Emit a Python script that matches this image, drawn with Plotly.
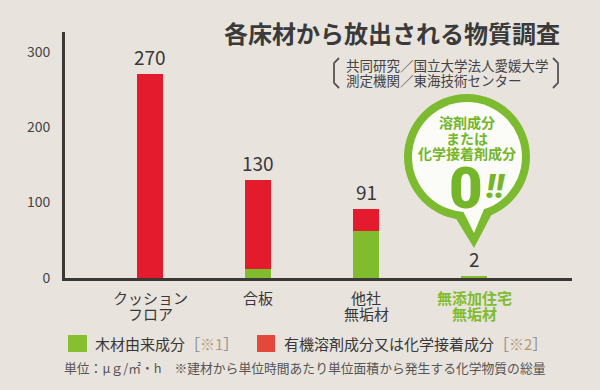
import plotly.graph_objects as go

# ---------------- data ----------------
categories = ["クッション\nフロア", "合板", "他社\n無垢材", "無添加住宅\n無垢材"]
wood_values = [0, 12, 62, 2]          # 木材由来成分
chem_values = [270, 118, 29, 0]       # 有機溶剤成分又は化学接着成分
totals = [270, 130, 91, 2]
y_ticks = [0, 100, 200, 300]
series_names = ["木材由来成分", "有機溶剤成分又は化学接着成分"]
series_notes = ["※1", "※2"]

# ---------------- style ----------------
BG = "#e9e3dd"
GREEN = "#80bd2e"
RED = "#e41b2d"
LEG_GREEN = "#86bf2f"
LEG_RED = "#e6473b"
TXT = "#383838"
FONT = "Noto Sans CJK JP"

L, R, T, B = 65, 572, 32, 278
W, H = 600, 390


def px(x):
    return (x - L) / (R - L)


def py(y):
    return (B - y) / (B - T)


xs = list(range(len(categories)))

fig = go.Figure()
fig.add_trace(go.Bar(x=xs, y=wood_values, width=0.24, marker=dict(color=GREEN, line_width=0),
                     name=series_names[0], showlegend=False))
fig.add_trace(go.Bar(x=xs, y=chem_values, width=0.24, marker=dict(color=RED, line_width=0),
                     name=series_names[1], showlegend=False))

annotations = []
# value labels
for i, v in enumerate(totals):
    annotations.append(dict(x=i, y=v, xref="x", yref="y", text=str(v), showarrow=False,
                            yanchor="bottom", yshift=2,
                            font=dict(family=FONT, size=19, color=TXT)))
# category labels
for i, c in enumerate(categories):
    last = i == len(categories) - 1
    for j, line in enumerate(c.split("\n")):
        annotations.append(dict(x=i, y=py(297 + j * 16), xref="x", yref="paper", text=line,
                                showarrow=False, xanchor="center", yanchor="middle",
                                font=dict(family=FONT, size=15,
                                          color=GREEN if last else TXT,
                                          weight="bold" if last else "normal")))

# title & credits
annotations.append(dict(x=px(392), y=py(32), xref="paper", yref="paper",
                        text="各床材から放出される物質調査", showarrow=False,
                        xanchor="center", yanchor="middle",
                        font=dict(family=FONT, size=24, color="#3a3a3a", weight="bold")))
for j, line in enumerate(["共同研究／国立大学法人愛媛大学", "測定機関／東海技術センター"]):
    annotations.append(dict(x=px(344), y=py(65 + j * 15), xref="paper", yref="paper",
                            text=line, showarrow=False, xanchor="left", yanchor="middle",
                            font=dict(family=FONT, size=13.5, color="#444")))

# bubble texts
for j, line in enumerate(["溶剤成分", "または", "化学接着剤成分"]):
    annotations.append(dict(x=px(467), y=py(122 + j * 15.5), xref="paper", yref="paper",
                            text=line, showarrow=False, xanchor="center", yanchor="middle",
                            font=dict(family=FONT, size=14, color="#74b52a", weight="bold")))
annotations.append(dict(x=px(466), y=py(188), xref="paper", yref="paper", text="0",
                        showarrow=False, xanchor="center", yanchor="middle",
                        font=dict(family="Roboto", size=58, color="#74b52a", weight=900)))
annotations.append(dict(x=px(496), y=py(186), xref="paper", yref="paper", text="<i>!!</i>",
                        showarrow=False, xanchor="center", yanchor="middle",
                        font=dict(family="Roboto", size=34, color="#74b52a", weight=900)))

# legend texts
leg_x = [93, 282]
for k, (name, note) in enumerate(zip(series_names, series_notes)):
    annotations.append(dict(x=px(leg_x[k]), y=py(343), xref="paper", yref="paper",
                            text=f"{name}<span style='color:#8a8a8a'>［</span>"
                                 f"<span style='color:#b39b78'>{note}</span>"
                                 f"<span style='color:#8a8a8a'>］</span>",
                            showarrow=False, xanchor="left", yanchor="middle",
                            font=dict(family=FONT, size=15, color=TXT)))
annotations.append(dict(x=px(62), y=py(367), xref="paper", yref="paper",
                        text="単位：μｇ/㎡・h　※建材から単位時間あたり単位面積から発生する化学物質の総量",
                        showarrow=False, xanchor="left", yanchor="middle",
                        font=dict(family=FONT, size=12.8, color="#555")))

shapes = []
# bubble
shapes.append(dict(type="circle", xref="paper", yref="paper", layer="above",
                   x0=px(404), x1=px(530), y0=py(220), y1=py(94),
                   fillcolor="#7cbb2f", line_width=0))
shapes.append(dict(type="path", xref="paper", yref="paper", layer="above",
                   path=f"M {px(452)},{py(212)} L {px(496)},{py(206)} L {px(474)},{py(248)} Z",
                   fillcolor="#7cbb2f", line_width=0))
shapes.append(dict(type="circle", xref="paper", yref="paper", layer="above",
                   x0=px(412), x1=px(522), y0=py(212), y1=py(102),
                   fillcolor="#fbfbf7", line_width=0))
shapes.append(dict(type="path", xref="paper", yref="paper", layer="above",
                   path=f"M {px(460)},{py(205)} L {px(487)},{py(202)} L {px(474)},{py(233)} Z",
                   fillcolor="#fbfbf7", line_width=0))
# brackets
shapes.append(dict(type="path", xref="paper", yref="paper",
                   path=f"M {px(339)},{py(58)} L {px(334)},{py(63)} L {px(334)},{py(83)} L {px(339)},{py(88)}",
                   line=dict(color="#555", width=1.8)))
shapes.append(dict(type="path", xref="paper", yref="paper",
                   path=f"M {px(553)},{py(58)} L {px(558)},{py(63)} L {px(558)},{py(83)} L {px(553)},{py(88)}",
                   line=dict(color="#555", width=1.8)))
# legend squares
shapes.append(dict(type="rect", xref="paper", yref="paper", x0=px(68), x1=px(87),
                   y0=py(352), y1=py(335), fillcolor=LEG_GREEN, line_width=0))
shapes.append(dict(type="rect", xref="paper", yref="paper", x0=px(257), x1=px(275),
                   y0=py(352), y1=py(335), fillcolor=LEG_RED, line_width=0))

fig.update_layout(
    width=W, height=H,
    margin=dict(l=L, r=W - R, t=T, b=H - B, pad=0),
    paper_bgcolor=BG, plot_bgcolor=BG,
    barmode="stack", bargap=0,
    annotations=annotations, shapes=shapes,
    font=dict(family=FONT, color=TXT),
)
fig.update_xaxes(range=[-0.787, 3.907], showline=True, linecolor="#3b3937", linewidth=2.6,
                 showticklabels=False, ticks="", showgrid=False, zeroline=False, fixedrange=True)
fig.update_yaxes(range=[0, 326], tickvals=y_ticks, showline=True, linecolor="#3b3937",
                 linewidth=2.8, ticks="", showgrid=False, zeroline=False, fixedrange=True,
                 ticklabelstandoff=9, tickfont=dict(family=FONT, size=14, color="#444"))

fig.write_html("out.html", config={"displayModeBar": False},
               post_script="document.body.style.margin='0';"
                           "document.body.style.background='" + BG + "';")
